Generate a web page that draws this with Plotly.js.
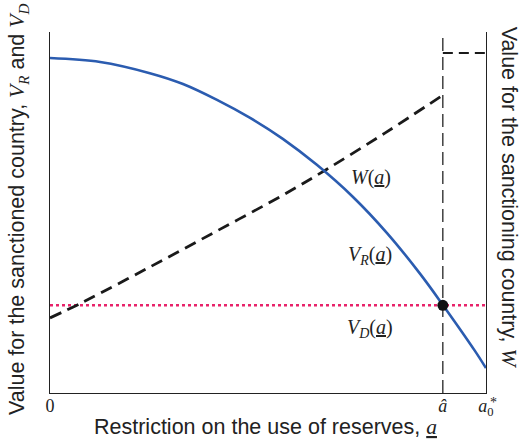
<!DOCTYPE html>
<html>
<head>
<meta charset="utf-8">
<script src="https://cdn.plot.ly/plotly-3.0.1.min.js"></script>
<style>html,body{margin:0;padding:0;background:#fff;}#chart{width:524px;height:445px;}</style>
</head>
<body>
<div id="chart"></div>
<script>
// Restriction on the use of reserves (0 .. a0*), normalised
const aHat = 0.901;
const aStar = 1.0;

// V_R(a): value for the sanctioned country
const xVR = [0, 0.115, 0.229, 0.305, 0.383, 0.459, 0.534, 0.612, 0.695, 0.773, 0.849, 0.901, 0.975, 1.0];
const yVR = [0.928, 0.917, 0.886, 0.856, 0.812, 0.762, 0.704, 0.632, 0.543, 0.443, 0.330, 0.244, 0.116, 0.069];

// W(a): value for the sanctioning country (up to a-hat)
const xW = [0, 0.076, 0.229, 0.383, 0.534, 0.635, 0.768, 0.901];
const yW = [0.208, 0.252, 0.349, 0.449, 0.548, 0.620, 0.720, 0.825];

// W beyond a-hat
const xWtop = [0.901, 1.0];
const yWtop = [0.942, 0.942];

// V_D(a): constant
const xVD = [0, 1.0];
const yVD = [0.243, 0.243];

// tick labels
const tickVals = [0, aHat, aStar];
const tickText = ['0', '<i>â</i>', '<i>a</i><sub>0</sub>'];

const serif = 'Liberation Serif, Times New Roman, serif';
const sans = 'Liberation Sans, Arial, sans-serif';

const traces = [
  {x: xVD, y: yVD, mode: 'lines', line: {color: '#e8236a', width: 2.6, dash: 'dot'}, hoverinfo: 'skip'},
  {x: [aHat, aHat], y: [0, 1], mode: 'lines', line: {color: '#111', width: 1.2, dash: '13px,6px'}, hoverinfo: 'skip'},
  {x: xW, y: yW, mode: 'lines', line: {color: '#1a1a1a', width: 2.8, dash: '12px,7px', shape: 'spline'}, hoverinfo: 'skip'},
  {x: xWtop, y: yWtop, mode: 'lines', line: {color: '#1a1a1a', width: 2, dash: '10px,6px'}, hoverinfo: 'skip'},
  {x: xVR, y: yVR, mode: 'lines', line: {color: '#2b5cb0', width: 2.6, shape: 'spline', smoothing: 1}, hoverinfo: 'skip'},
  {x: [aHat], y: [yVD[0]], mode: 'markers', marker: {color: '#111', size: 11}, hoverinfo: 'skip'}
];

const layout = {
  width: 524, height: 445,
  margin: {l: 50, r: 38, t: 32, b: 52},
  showlegend: false,
  paper_bgcolor: '#fff', plot_bgcolor: '#fff',
  xaxis: {
    range: [0, 1], showgrid: false, zeroline: false,
    showline: true, linecolor: '#222', linewidth: 1.3,
    ticks: '', tickvals: tickVals, ticktext: tickText,
    ticklabelstandoff: -4,
    tickfont: {family: serif, size: 18, color: '#222'}
  },
  yaxis: {
    range: [0, 1], showgrid: false, zeroline: false,
    showline: true, mirror: true, linecolor: '#222', linewidth: 1.3,
    ticks: '', showticklabels: false
  },
  annotations: [
    {xref: 'paper', yref: 'paper', x: -0.071, y: 0.507, xanchor: 'center', yanchor: 'middle', textangle: -90, showarrow: false,
     text: 'Value for the sanctioned country, <span style="font-family:Liberation Serif"><i>V</i><sub><i>R</i></sub></span> and <span style="font-family:Liberation Serif"><i>V</i><sub><i>D</i></sub></span>',
     font: {family: sans, size: 21.5, color: '#222'}},
    {xref: 'paper', yref: 'paper', x: 1.052, y: 0.542, xanchor: 'center', yanchor: 'middle', textangle: 90, showarrow: false,
     text: 'Value for the sanctioning country, <span style="font-family:Liberation Serif"><i>W</i></span>',
     font: {family: sans, size: 21.5, color: '#222'}},
    {xref: 'paper', yref: 'paper', x: 0.495, y: -0.095, xanchor: 'center', yanchor: 'middle', showarrow: false,
     text: 'Restriction on the use of reserves, <span style="font-family:Liberation Serif"><i><u>a</u></i></span>',
     font: {family: sans, size: 21.5, color: '#222'}},
    {xref: 'paper', yref: 'paper', x: 1.005, y: 0.0, xanchor: 'left', yanchor: 'top', showarrow: false,
     text: '*', font: {family: serif, size: 14, color: '#222'}},
    {x: 0.736, y: 0.598, xanchor: 'center', yanchor: 'middle', showarrow: false,
     text: '<i>W</i>(<i><u>a</u></i>)', font: {family: serif, size: 20, color: '#222'}},
    {x: 0.734, y: 0.382, xanchor: 'center', yanchor: 'middle', showarrow: false,
     text: '<i>V<sub>R</sub></i>(<i><u>a</u></i>)', font: {family: serif, size: 20, color: '#222'}},
    {x: 0.734, y: 0.180, xanchor: 'center', yanchor: 'middle', showarrow: false,
     text: '<i>V<sub>D</sub></i>(<i><u>a</u></i>)', font: {family: serif, size: 20, color: '#222'}}
  ]
};

Plotly.newPlot('chart', traces, layout, {staticPlot: true, displayModeBar: false});
</script>
</body>
</html>
